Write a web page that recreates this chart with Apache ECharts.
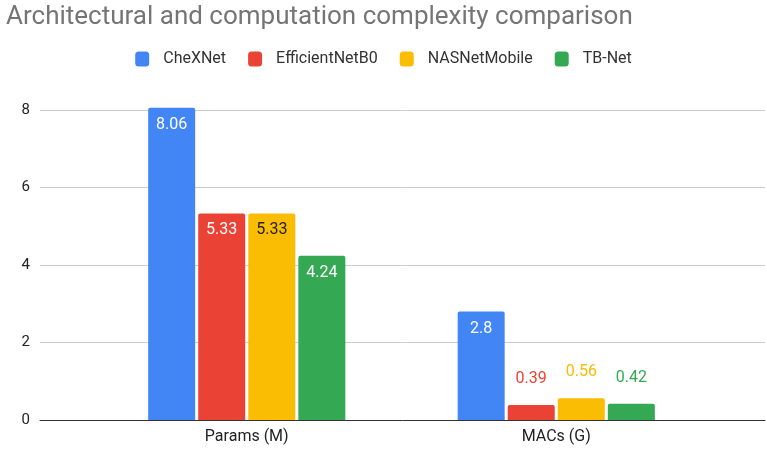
<!DOCTYPE html>
<html><head><meta charset="utf-8">
<script src="https://cdn.jsdelivr.net/npm/echarts@6/dist/echarts.min.js"></script>
<style>html,body{margin:0;padding:0;background:#fff}#c{width:767px;height:449px}</style>
</head><body><div id="c"></div>
<script>
const categories = ['Params (M)', 'MACs (G)'];
const seriesNames = ['CheXNet', 'EfficientNetB0', 'NASNetMobile', 'TB-Net'];
const cheXNet = [8.06, 2.8];
const efficientNetB0 = [5.33, 0.39];
const nasNetMobile = [5.33, 0.56];
const tbNet = [4.24, 0.42];
const yTicks = [0, 2, 4, 6, 8];

const colors = ['#4285f4', '#ea4335', '#fbbc04', '#34a853'];
const insideColors = ['#ffffff', '#ffffff', '#222222', '#ffffff'];
const values = [cheXNet, efficientNetB0, nasNetMobile, tbNet];
const font = 'Roboto, Arial, sans-serif';

const chart = echarts.init(document.getElementById('c'));
const series = seriesNames.map((name, i) => ({
  name, type: 'bar', xAxisIndex: 1, yAxisIndex: 1,
  barWidth: 47, barGap: '6.5%', clip: false,
  itemStyle: { color: colors[i], borderRadius: [2, 2, 0, 0] },
  data: values[i].map(v => ({
    value: v,
    label: v >= 1
      ? { show: true, position: 'insideTop', distance: 9, color: insideColors[i] }
      : { show: true, position: 'top', distance: 18, color: colors[i] }
  })),
  label: { show: true, fontFamily: font, fontSize: 16 }
}));

chart.setOption({
  animation: false,
  color: colors,
  title: {
    text: 'Architectural and computation complexity comparison',
    left: 1, top: -1,
    textStyle: { fontFamily: font, fontSize: 26, fontWeight: 'normal', color: '#757575' }
  },
  legend: {
    data: seriesNames, top: 46, left: 'center',
    icon: 'roundRect', itemWidth: 14, itemHeight: 15, itemGap: 22,
    textStyle: { fontFamily: font, fontSize: 16, color: '#333', padding: [0, 0, 0, 9] }
  },
  grid: [
    { left: 40, right: 2, top: 110, bottom: 29 },
    { left: 92, right: 56, top: 110, bottom: 29 }
  ],
  xAxis: [
    { gridIndex: 0, type: 'category', data: [''], axisLine: { show: true, lineStyle: { color: '#333', width: 1 } },
      axisTick: { show: false }, axisLabel: { show: false } },
    { gridIndex: 1, type: 'category', data: categories, axisLine: { show: false }, axisTick: { show: false },
      axisLabel: { margin: 9, fontFamily: font, fontSize: 16, color: '#222' } }
  ],
  yAxis: [
    { gridIndex: 0, type: 'value', min: yTicks[0], max: yTicks[yTicks.length - 1], interval: 2,
      axisLine: { show: false }, axisTick: { show: false },
      axisLabel: { margin: 10, fontFamily: font, fontSize: 15, color: '#222' },
      splitLine: { lineStyle: { color: '#cccccc' } } },
    { gridIndex: 1, type: 'value', min: yTicks[0], max: yTicks[yTicks.length - 1], interval: 2, show: false,
      splitLine: { show: false } }
  ],
  series
});
</script></body></html>
